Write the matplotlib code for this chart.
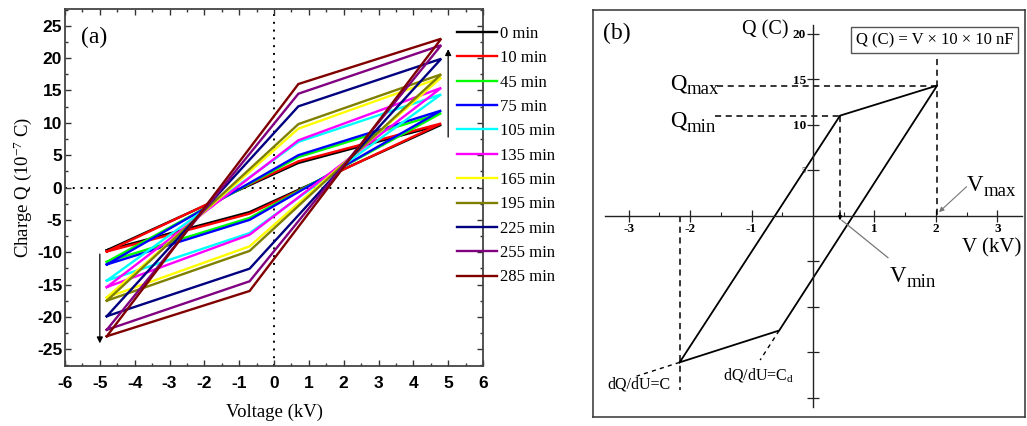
import numpy as np
import matplotlib
matplotlib.use("Agg")
import matplotlib.pyplot as plt
from matplotlib.ticker import MultipleLocator, FixedLocator

plt.rcParams["font.family"] = ["Liberation Serif", "DejaVu Serif"]
plt.rcParams["mathtext.fontset"] = "custom"
plt.rcParams["mathtext.rm"] = "Liberation Serif"
plt.rcParams["mathtext.it"] = "Liberation Serif:italic"
plt.rcParams["mathtext.bf"] = "Liberation Serif:bold"
plt.rcParams["axes.unicode_minus"] = False

# (a) Lissajous loops after each treatment time
times = ["0 min", "10 min", "45 min", "75 min", "105 min", "135 min",
         "165 min", "195 min", "225 min", "255 min", "285 min"]
colors = ["#000000", "#FF0000", "#00FF00", "#0000FF", "#00FFFF", "#FF00FF",
          "#FFFF00", "#808000", "#000080", "#800080", "#800000"]
q_peak = [9.7, 9.9, 11.5, 11.9, 14.4, 15.4, 17.0, 17.5, 19.9, 22.0, 23.0]
q_knee = [3.8, 4.05, 4.7, 5.0, 7.05, 7.3, 9.1, 9.8, 12.55, 14.5, 16.0]
v_peak = 4.8
v_knee = 0.7

# arrows showing the growth of the loops with time
arrow_up = [5.0, 7.8, 21.4]
arrow_down = [-5.0, -10.3, -24.1]

# (b) sketch of one loop
sk_v = [-2.17, 0.44, 2.02, -0.55]
sk_q = [-16.1, 11.0, 14.3, -12.6]
sk_xticks = [-3, -2, -1, 1, 2, 3]
sk_xminor = [-2.5, -1.5, -0.5, 0.5, 1.5, 2.5]
sk_yticks = [-20, -15, -10, -5, 5, 10, 15, 20]
sk_ylabels = ["", "", "", "", "5", "10", "15", "20"]

fig = plt.figure(figsize=(10.27, 4.26), dpi=100)

# ---------------- panel (a) ----------------
ax = fig.add_axes([65 / 1027, 1 - 366 / 426, 418 / 1027, 357 / 426])
for lab, col, qp, qk in zip(times, colors, q_peak, q_knee):
    vx = [-v_peak, v_knee, v_peak, -v_knee, -v_peak]
    qy = [-qp, qk, qp, -qk, -qp]
    ax.plot(vx, qy, color=col, lw=1.7, label=lab, solid_joinstyle="miter")

ax.axhline(0, color="k", ls=(0, (1, 3)), lw=1.4, zorder=0)
ax.axvline(0, color="k", ls=(0, (1, 3)), lw=1.4, zorder=0)

for x0, y0, y1 in (arrow_up, arrow_down):
    ax.annotate("", xy=(x0, y1), xytext=(x0, y0),
                arrowprops=dict(arrowstyle="-|>", color="k", lw=0.9,
                                mutation_scale=9, shrinkA=0, shrinkB=0))

ax.set_xlim(-6, 6)
ax.set_ylim(-27.6, 27.6)
ax.xaxis.set_minor_locator(MultipleLocator(0.5))
ax.yaxis.set_minor_locator(MultipleLocator(2.5))
ax.tick_params(which="both", direction="in", top=True, right=True,
               width=1, color="#333333")
ax.tick_params(which="major", length=4.5, pad=7)
ax.tick_params(axis="y", which="major", pad=2)
ax.tick_params(which="minor", length=2.5)
xt = np.arange(-6, 7, 1)
yt = np.arange(-25, 26, 5)
ax.set_xticks(xt, [str(t) for t in xt])
ax.set_yticks(yt, [str(t) for t in yt])
for t in ax.get_xticklabels() + ax.get_yticklabels():
    t.set_fontfamily(["Liberation Sans", "DejaVu Sans"])
    t.set_fontweight("bold")
    t.set_fontsize(12.5)
for s in ax.spines.values():
    s.set_color("#444444")
    s.set_linewidth(1.3)

ax.set_xlabel("Voltage (kV)", fontsize=13.5, labelpad=9)
ax.set_ylabel("Charge Q (10$^{-7}$ C)", fontsize=13.5, labelpad=2)
ax.text(0.038, 0.92, "(a)", transform=ax.transAxes, fontsize=17,
        ha="left", va="center")

ax.legend(loc="upper left", bbox_to_anchor=(457 / 1027, 1 - 26 / 426),
          bbox_transform=fig.transFigure, frameon=False, fontsize=12,
          handlelength=2.4, handletextpad=0.2, labelspacing=0.5,
          borderaxespad=0, borderpad=0)

# ---------------- panel (b) ----------------
pos_b = [593 / 1027, 1 - 417 / 426, 432 / 1027, 407 / 426]
frame = fig.add_axes(pos_b)
frame.set_xticks([])
frame.set_yticks([])
for s in frame.spines.values():
    s.set_color("#333333")
    s.set_linewidth(1.1)

bx = fig.add_axes(pos_b, facecolor="none")
bx.set_xlim(-3.58, 3.45)
bx.set_ylim(-22.1, 22.6)
bx.spines["top"].set_visible(False)
bx.spines["right"].set_visible(False)
bx.spines["left"].set_position("zero")
bx.spines["bottom"].set_position("zero")
bx.spines["bottom"].set_bounds(-3.38, 3.4)
bx.spines["left"].set_bounds(-21, 21)
for s in ("left", "bottom"):
    bx.spines[s].set_linewidth(1.0)
    bx.spines[s].set_color("#222222")

bx.xaxis.set_minor_locator(FixedLocator(sk_xminor))
bx.tick_params(which="major", direction="inout", length=8, width=0.9,
               color="#222222")
bx.tick_params(which="minor", direction="in", length=3, width=0.8,
               color="#222222")
bx.tick_params(axis="x", which="major", pad=1)
bx.tick_params(axis="y", which="major", pad=1)
bx.tick_params(axis="y", which="minor", left=False)
bx.set_xticks(sk_xticks, [str(t) for t in sk_xticks])
bx.set_yticks(sk_yticks, sk_ylabels)
for t in bx.get_xticklabels() + bx.get_yticklabels():
    t.set_fontweight("bold")
    t.set_fontsize(9.5)
bx.get_yticklabels()[4].set_fontsize(6)
bx.get_yticklabels()[4].set_color("#777777")

# loop outline
bx.plot(sk_v + sk_v[:1], sk_q + sk_q[:1], color="k", lw=1.3)

dash = dict(color="k", lw=1.1, ls=(0, (4, 3)))
va, vb, vc, vd = sk_v
qa, qb, qc, qd = sk_q
bx.plot([-1.57, vc], [qc, qc], **dash)
bx.plot([vc, vc], [17.2, 0], **dash)
bx.plot([-1.6, vb], [qb, qb], **dash)
bx.plot([vb, vb], [qb, -0.2], **dash)
bx.annotate("", xy=(vb, -0.5), xytext=(vb, 0.6),
            arrowprops=dict(arrowstyle="-|>", color="k", lw=0.8,
                            mutation_scale=6, shrinkA=0, shrinkB=0))
bx.plot([va, va], [0, -19.1], **dash)
# tangent extensions of the two slopes
slope_c = (qd - qa) / (vd - va)
slope_cd = (qc - qd) / (vc - vd)
bx.plot([va, -2.87], [qa, qa + slope_c * (-2.87 - va)], color="k", lw=1.0,
        ls=(0, (3, 3)))
bx.plot([vd, -0.86], [qd, qd + slope_cd * (-0.86 - vd)], color="k", lw=1.0,
        ls=(0, (3, 3)))


def sub_label(x, y, main, sub):
    # big letter followed by a large, lowered subscript
    t = bx.text(x, y, main, fontsize=16.5, ha="left", va="baseline")
    bx.annotate(sub, xy=(1, 0), xycoords=t, xytext=(0, 0),
                textcoords="offset points", fontsize=13.5, ha="left",
                va="baseline")


bx.text(0.023, 0.943, "(b)", transform=bx.transAxes, fontsize=17,
        ha="left", va="center")
bx.text(-0.4, 20.4, "Q (C)", fontsize=14.5, ha="right", va="center")
sub_label(-2.33, 13.9, "Q", "max")
sub_label(-2.33, 9.8, "Q", "min")
sub_label(2.5, 2.7, "V", "max")
sub_label(1.25, -7.3, "V", "min")
bx.text(2.42, -4.0, "V (kV)", fontsize=15, ha="left", va="baseline")
bx.text(1.98, 19.3, "Q (C) = V × 10 × 10 nF", fontsize=12, ha="center",
        va="center",
        bbox=dict(boxstyle="square,pad=0.3", fc="white", ec="#555555",
                  lw=1.0))
bx.text(-3.35, -18.5, "dQ/dU=C", fontsize=11.5, ha="left", va="center")
bx.text(-1.46, -17.5, "dQ/dU=C$_\\mathrm{d}$", fontsize=11.5, ha="left",
        va="center")

bx.annotate("", xy=(2.05, 0.4), xytext=(2.5, 3.2),
            arrowprops=dict(arrowstyle="-|>", color="#777777", lw=0.8,
                            mutation_scale=7, shrinkA=0, shrinkB=0))
bx.plot([1.22, 0.47], [-4.6, -0.5], color="#777777", lw=0.9)

fig.savefig("out.png", dpi=100)
